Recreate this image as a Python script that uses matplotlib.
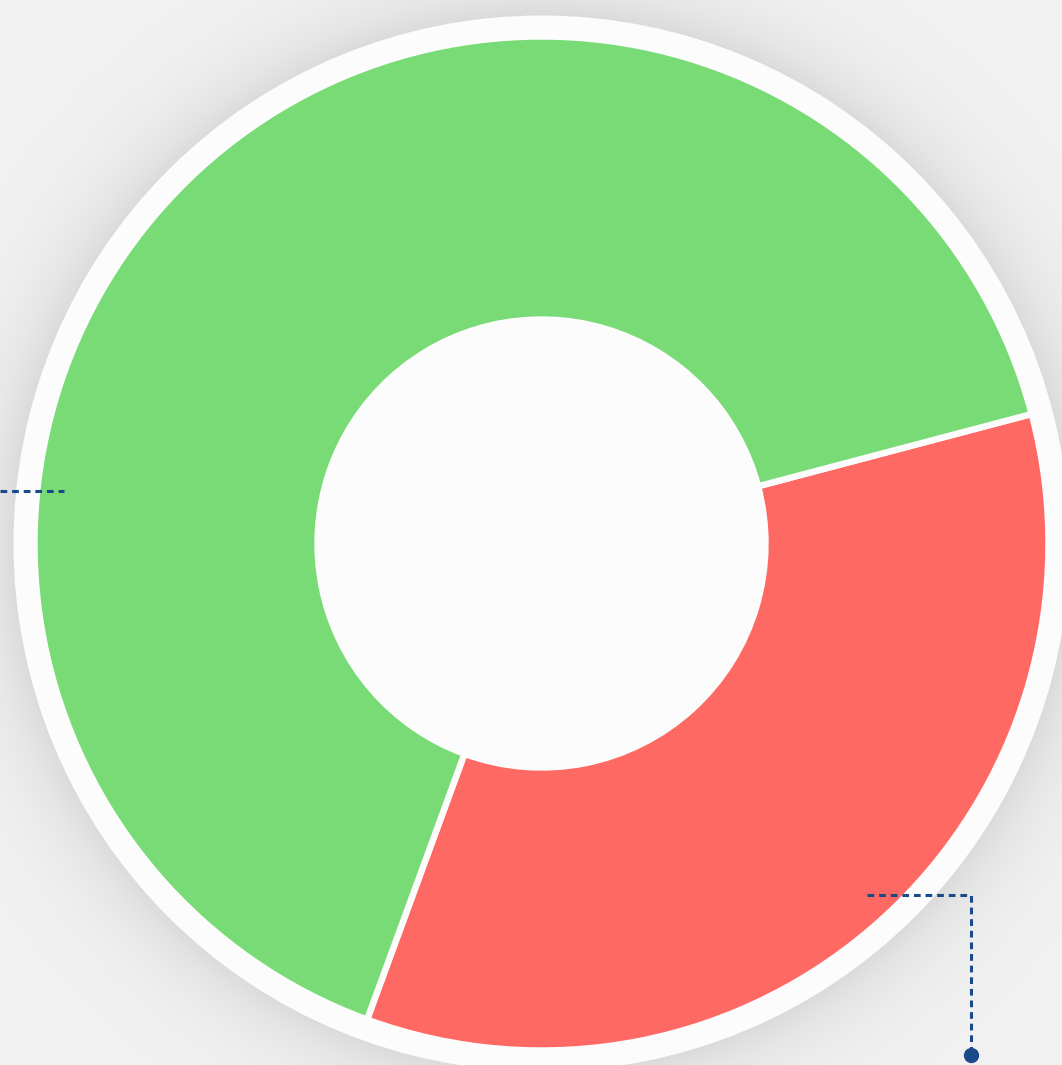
import numpy as np
import matplotlib.pyplot as plt
from matplotlib.patches import Circle

# share of the two segments (percent)
labels = ['Negative', 'Positive']
values = [34.7, 65.3]
colors = ['#fe6a63', '#79db76']

W, H = 1062, 1065
cx, cy = 541.5, H - 543.5

fig = plt.figure(figsize=(W / 100, H / 100), dpi=100)
ax = fig.add_axes([0, 0, 1, 1])

# background with soft drop shadow around the plate
yy, xx = np.mgrid[0:H, 0:W]
r = np.hypot(xx + 0.5 - cx, (H - yy - 0.5) - cy)
shade = 0.095 * np.exp(-np.clip(r - 526, 0, None) / 38.0)
bg = 0.949 - shade
img = np.dstack([bg, bg, bg])
ax.imshow(img, extent=(0, W, 0, H), origin='upper', zorder=0)

# white plate
ax.add_patch(Circle((cx, cy), 528, facecolor='#fcfcfc', edgecolor='none', zorder=1))

wedges, _ = ax.pie(values, colors=colors, startangle=14.8, counterclock=False,
                   center=(cx, cy), radius=507, frame=True,
                   wedgeprops=dict(width=283, edgecolor='#fcfcfc', linewidth=4.6,
                                   joinstyle='round'))
for w in wedges:
    w.set_zorder(2)
ax.set_xlim(0, W)
ax.set_ylim(0, H)
ax.set_aspect('equal')
ax.axis('off')

# leader lines
navy = '#1b4a8a'
ax.plot([0, 64], [H - 491, H - 491], color=navy, lw=2.2, ls=(0, (2.2, 1.6)), zorder=3)
ax.plot([867, 971, 971], [H - 895, H - 895, H - 1055], color=navy, lw=2.2,
        ls=(0, (2.2, 1.6)), zorder=3)
ax.plot([971], [H - 1055], 'o', color=navy, ms=10, zorder=4)

fig.savefig('out.png', dpi=100)
